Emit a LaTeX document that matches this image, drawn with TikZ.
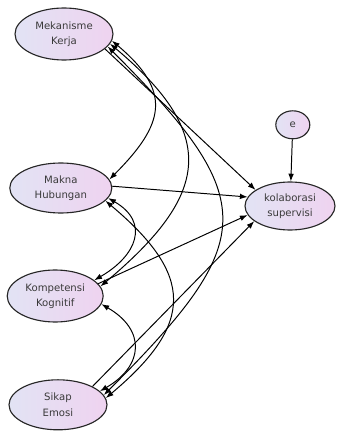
\documentclass[tikz,border=0pt]{standalone}
\usepackage{fontspec}
\usetikzlibrary{shapes.geometric, arrows.meta}
\newfontfamily\diagfont{DejaVu Sans}
\definecolor{VarLeft}{HTML}{E2E3F4}
\definecolor{VarRight}{HTML}{EFD3F0}
\definecolor{VarText}{HTML}{3A3A3A}

\begin{document}
\begin{tikzpicture}[
    latent/.style={draw=black!85, line width=0.8pt, ellipse, left color=VarLeft, right color=VarRight,
      text=VarText, align=center, inner sep=0pt, font=\diagfont\fontsize{7.2pt}{11pt}\selectfont},
    reg/.style={-{Latex[length=5.5pt,width=4pt]}, line width=0.7pt},
    cov/.style={{Latex[length=5.5pt,width=4pt]}-{Latex[length=5.5pt,width=4pt]}, line width=0.7pt}
  ]
  \useasboundingbox (0,0) rectangle (8.4,-10.8);

  % Exogenous variables
  \node[latent, minimum width=2.45cm, minimum height=1.3cm] (mek) at (1.6,-0.85) {Mekanisme\\Kerja};
  \node[latent, minimum width=2.55cm, minimum height=1.25cm] (makna) at (1.52,-4.7) {Makna\\Hubungan};
  \node[latent, minimum width=2.4cm, minimum height=1.3cm] (komp) at (1.38,-7.4) {Kompetensi\\Kognitif};
  \node[latent, minimum width=2.45cm, minimum height=1.25cm] (sikap) at (1.45,-10.12) {Sikap\\Emosi};

  % Endogenous variable and error
  \node[latent, minimum width=2.25cm, minimum height=1.2cm] (kol) at (7.25,-5.15) {kolaborasi\\supervisi};
  \node[latent, minimum width=0.85cm, minimum height=0.7cm] (e) at (7.32,-3.12) {e};

  % Paths
  \draw[reg] (e) -- (kol);
  \draw[reg] (mek.-20) -- (kol.155);
  \draw[reg] (makna.2) -- (kol.168);
  \draw[reg] (komp.16) -- (kol.192);
  \draw[reg] (sikap.28) -- (kol.203);

  % Covariances
  \draw[cov] (mek.-8) to[out=-40, in=45, looseness=1.45] (makna.10);
  \draw[cov] (mek.-12) to[out=-40, in=40, looseness=1.5] (komp.12);
  \draw[cov] (mek.-16) to[out=-45, in=45, looseness=1.6] (sikap.12);
  \draw[cov] (makna.-12) to[out=-30, in=30, looseness=1.5] (komp.22);
  \draw[cov] (makna.-16) to[out=-40, in=40, looseness=1.5] (sikap.8);
  \draw[cov] (komp.-10) to[out=-30, in=30, looseness=1.5] (sikap.18);
\end{tikzpicture}
\end{document}
